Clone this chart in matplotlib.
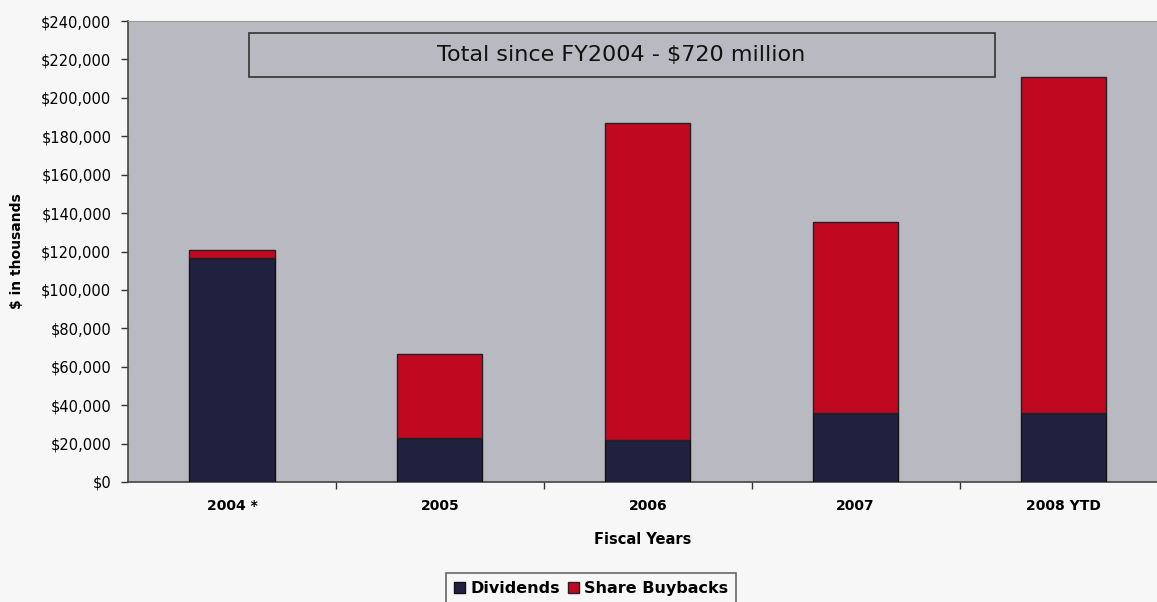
import matplotlib.pyplot as plt
import numpy as np
from matplotlib.ticker import FuncFormatter, FixedLocator
from matplotlib.patches import Rectangle

# data ($ in thousands)
years = ["2004 *", "2005", "2006", "2007", "2008 YTD"]
dividends = [116500, 23000, 22000, 36000, 36000]
buybacks = [4200, 43500, 165000, 99500, 175000]

plt.rcParams['font.family'] = ['DejaVu Sans']

fig = plt.figure(figsize=(11.57, 6.02), dpi=100, facecolor='#f7f7f7')
ax = fig.add_axes([128/1157, 120/602, 1029/1157, 461/602])
ax.set_facecolor('#b9b9c1')

x = np.arange(len(years))
w = 0.41
ax.bar(x, dividends, w, color='#20203f', edgecolor='#111111', linewidth=1, label='Dividends', zorder=3)
ax.bar(x, buybacks, w, bottom=dividends, color='#c00820', edgecolor='#222222', linewidth=1,
       label='Share Buybacks', zorder=3)

ax.set_ylim(0, 240000)
ax.set_xlim(-0.5, 4.45)
ax.set_yticks(np.arange(0, 240001, 20000))
ax.yaxis.set_major_formatter(FuncFormatter(lambda v, p: "${:,.0f}".format(v)))
ax.tick_params(axis='y', length=5, width=1, color='#333333', labelsize=10.5, pad=7)

ax.set_xticks(x)
ax.set_xticklabels(years, fontweight='bold', fontsize=10)
ax.tick_params(axis='x', which='major', length=0, pad=12)
ax.xaxis.set_minor_locator(FixedLocator(np.arange(0.5, 4.5, 1.0)))
ax.tick_params(axis='x', which='minor', length=5, width=1, color='#333333')

for s in ['left', 'bottom']:
    ax.spines[s].set_color('#444444')
    ax.spines[s].set_linewidth(1.2)
ax.spines['top'].set_color('#9a9a9a')
ax.spines['right'].set_visible(False)

ax.set_xlabel("Fiscal Years", fontweight='bold', fontsize=10.5, labelpad=14)
ax.set_ylabel("$ in thousands", fontweight='bold', fontsize=10, labelpad=12)

# title box
fig.patches.append(Rectangle((249/1157, 1 - 77/602), 746/1157, 44/602, transform=fig.transFigure,
                             facecolor='#b9b9c1', edgecolor='#333333', linewidth=1.2, zorder=5))
fig.text(621/1157, 1 - 55/602, "Total since FY2004 - $720 million", ha='center', va='center',
         fontsize=16, color='#111111', zorder=6)

leg = fig.legend(loc='upper center', bbox_to_anchor=(591/1157, 1 - 573/602), ncol=2,
                 frameon=True, fancybox=False, edgecolor='#444444', facecolor='#f7f7f7',
                 prop={'weight': 'bold', 'size': 11.5}, handlelength=0.7, handleheight=0.7,
                 handletextpad=0.3, columnspacing=0.5, borderpad=0.5, borderaxespad=0)
leg.get_frame().set_linewidth(1.2)

fig.savefig("out.png", dpi=100, facecolor=fig.get_facecolor())
